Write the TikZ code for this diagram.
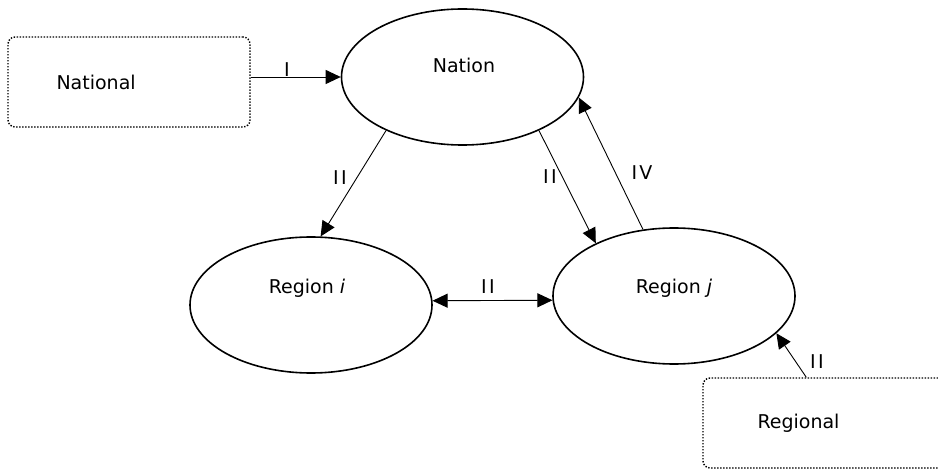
\documentclass[tikz,border=0pt]{standalone}
\usepackage{fontspec}
\setmainfont{DejaVu Sans}
\usetikzlibrary{arrows.meta,shapes.geometric}
\newcommand{\twoI}{I\kern2.5pt I}
\begin{document}
\begin{tikzpicture}[x=1pt,y=-1pt,
  font=\fontsize{19}{23}\selectfont,
  ell/.style={draw,ellipse,line width=1.6pt,minimum width=242pt,minimum height=136pt,inner sep=0pt},
  srcbox/.style={draw,rectangle,rounded corners=7pt,dash pattern=on 1.4pt off 1.6pt,line width=1.4pt,minimum width=242pt,minimum height=90pt,inner sep=0pt},
  txt/.style={inner sep=0pt},
  conn/.style={line width=0.9pt,-{Triangle[length=15pt,width=14pt]}},
  lbl/.style={inner sep=0pt,fill=none}]
\useasboundingbox (0,0) rectangle (938,473);
\clip (0,0) rectangle (938,473);
% nodes
\node[srcbox] (nat) at (129,82) {};
\node[txt,anchor=west] (natT) at ([xshift=49pt]nat.west) {National};
\node[srcbox] (reg) at (824,423) {};
\node[txt,anchor=west] (regT) at ([xshift=55pt]reg.west) {Regional};
\node[ell] (nation) at (462.5,77) {};
\node[txt] (nationT) at (464,65) {Nation};
\node[ell] (ri) at (311,305) {};
\node[txt] (riT) at (307,288) {Region \textit{i}};
\node[ell] (rj) at (674,296) {};
\node[txt] (rjT) at (674,288) {Region \textit{j}};
% connectors
\draw[conn] (nat.east |- nation.west) -- (nation.west);
\draw[conn] (nation.215) -- (ri.82);
\draw[conn] (nation.325.3) -- (rj.146.1);
\draw[conn] (rj.115.9) -- (nation.350.5);
\draw[conn,{Triangle[length=15pt,width=14pt]}-{Triangle[length=15pt,width=14pt]}] (ri.2) -- (rj.182);
\draw[conn] ([xshift=104pt]reg.north west) -- (rj.340.4);
% labels
\node[lbl] (l1) at (287,70) {I};
\node[lbl] (l2) at (340,178) {\twoI};
\node[lbl] (l3) at (550,177) {\twoI};
\node[lbl] (l4) at (642,173) {I\kern2pt V};
\node[lbl] (l5) at (488,287) {\twoI};
\node[lbl] (l6) at (817,362) {\twoI};
\end{tikzpicture}
\end{document}
